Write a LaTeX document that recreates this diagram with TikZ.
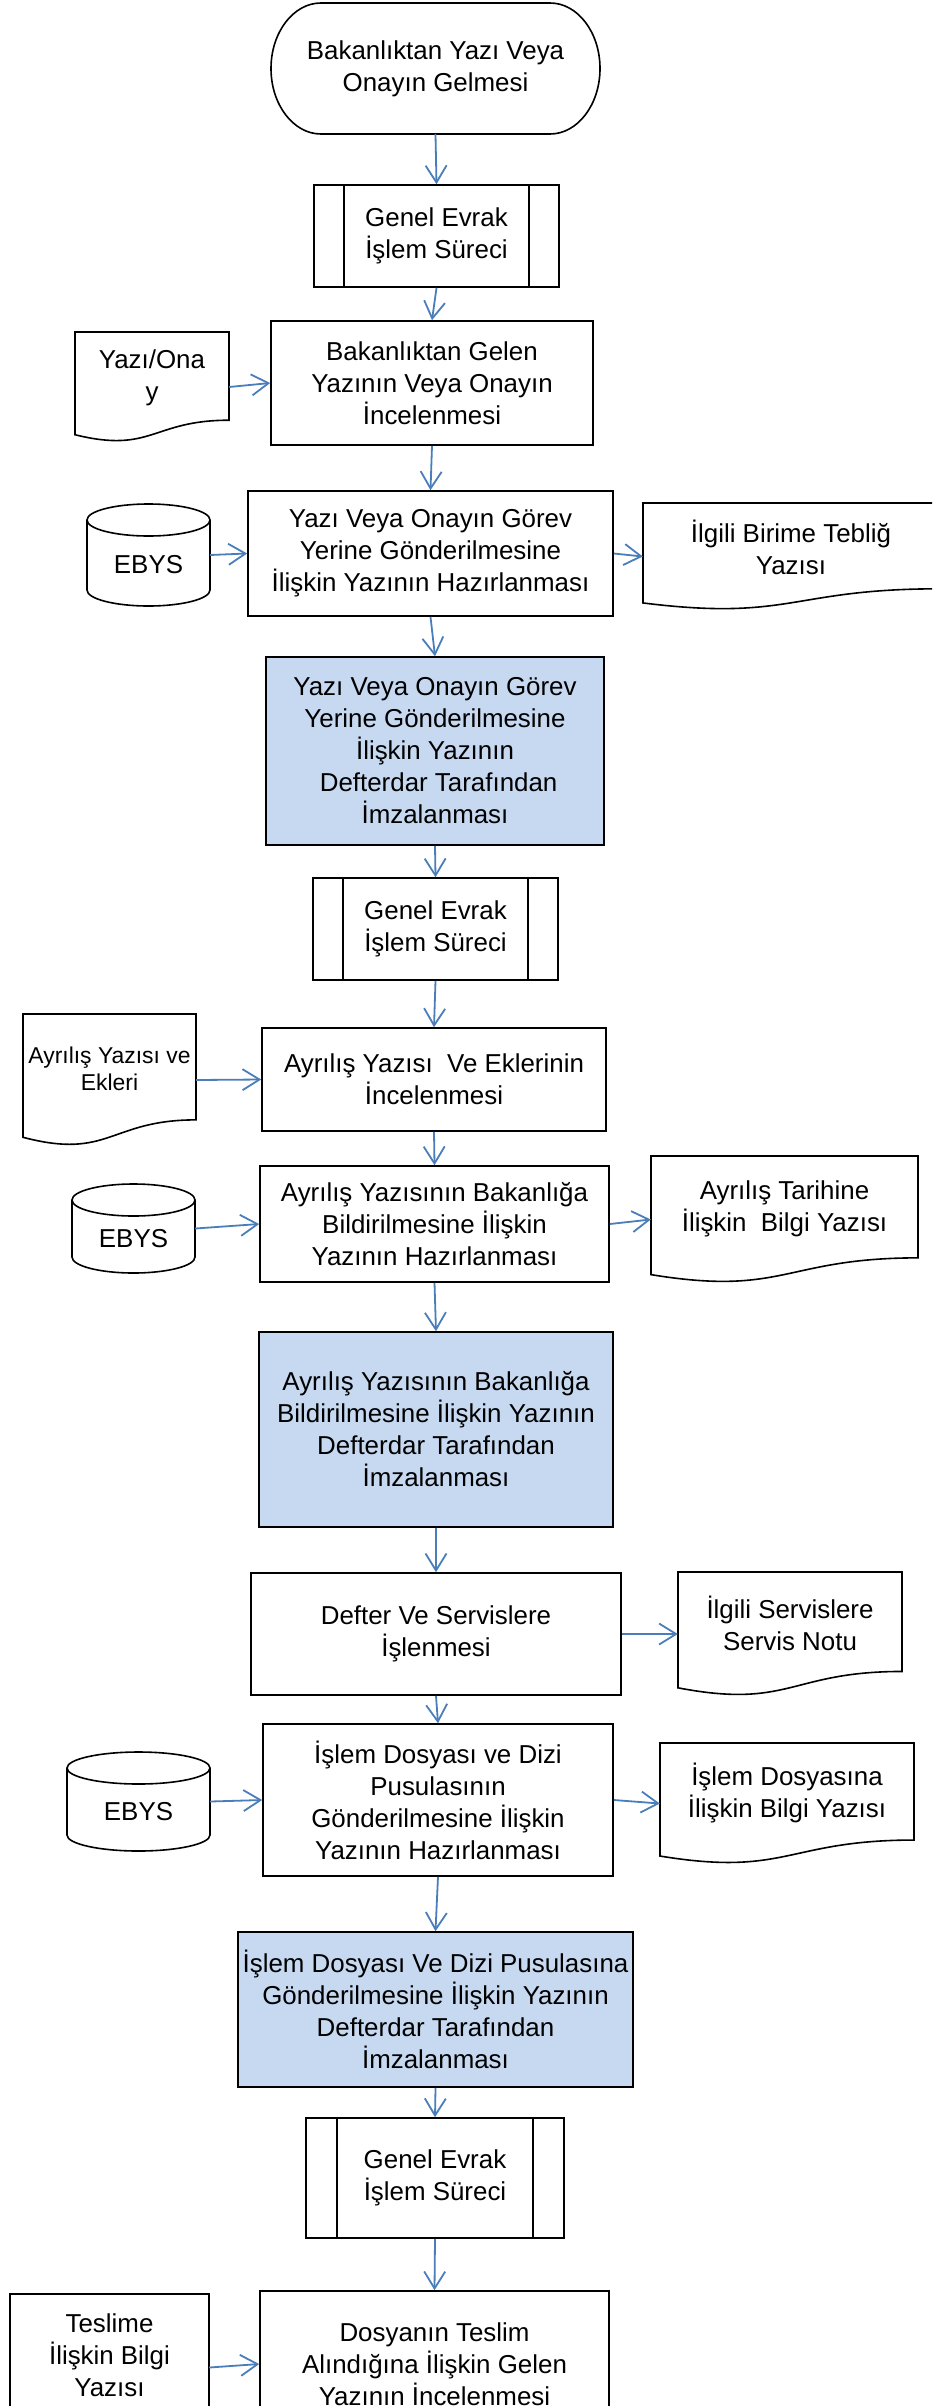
\documentclass[tikz,border=0pt]{standalone}
\usepackage{fontspec}
\setmainfont{Liberation Sans}
\usetikzlibrary{arrows.meta,calc}
\definecolor{arrowblue}{RGB}{74,126,187}
\definecolor{fillblue}{RGB}{198,217,241}
\newcommand{\mainfs}{\fontsize{25.9}{32}\selectfont}
\newcommand{\smallfs}{\fontsize{22.9}{27.5}\selectfont}
\tikzset{
  shapeline/.style={draw=black, line width=1.6pt},
  procbox/.style={shapeline, rectangle, inner sep=0pt, align=center, font=\mainfs},
  signbox/.style={procbox, fill=fillblue},
  txt/.style={align=center, inner sep=0pt, font=\mainfs},
  anchorbox/.style={draw=none, inner sep=0pt, rectangle},
  conn/.style={draw=arrowblue, line width=1.8pt, -{Straight Barb[length=17pt,width=21pt,line width=1.8pt]}}
}
% document shape: name, x1, x2, top, height, label options, text
\newcommand{\docshp}[7]{%
  \pgfmathsetmacro\dsXm{(#2+#3)/2}%
  \pgfmathsetmacro\dsYa{#4+0.802*#5}%
  \pgfmathsetmacro\dsYb{#4+1.107*#5}%
  \pgfmathsetmacro\dsYc{#4+0.934*#5}%
  \pgfmathsetmacro\dsYt{#4+0.415*#5}%
  \pgfmathsetmacro\dsYm{#4+0.5*#5}%
  \pgfmathsetmacro\dsW{#3-#2}%
  \draw[shapeline] (#2,#4) -- (#3,#4) -- (#3,\dsYa) .. controls (\dsXm,\dsYa) and (\dsXm,\dsYb) .. (#2,\dsYc) -- cycle;
  \node[anchorbox, minimum width=\dsW pt, minimum height=#5pt] (#1) at (\dsXm,\dsYm) {};
  \node[txt,#6] (#1-label) at (\dsXm,\dsYt) {#7};
}
% cylinder (database): name, cx, cy, width, height
\newcommand{\cylshp}[5]{%
  \pgfmathsetmacro\cyRx{#4/2}%
  \pgfmathsetmacro\cyRy{16}%
  \pgfmathsetmacro\cyL{#2-#4/2}%
  \pgfmathsetmacro\cyR{#2+#4/2}%
  \pgfmathsetmacro\cyT{#3-#5/2+16}%
  \pgfmathsetmacro\cyB{#3+#5/2-16}%
  \draw[shapeline] (\cyL,\cyT) -- (\cyL,\cyB) arc[start angle=180, end angle=360, x radius=\cyRx pt, y radius=\cyRy pt] -- (\cyR,\cyT);
  \draw[shapeline] (#2,\cyT) ellipse [x radius=\cyRx pt, y radius=\cyRy pt];
  \node[anchorbox, minimum width=#4pt, minimum height=#5pt] (#1) at (#2,#3) {};
  \node[txt] (#1-label) at (#2,#3+10) {EBYS};
}
\begin{document}
\begin{tikzpicture}[x=1pt,y=-1pt]
\useasboundingbox (0,0) rectangle (932,2406);
\clip (0,0) rectangle (932,2406);
\fill[white] (0,0) rectangle (932,2406);

% terminal
\draw[shapeline] (321,3) -- (550,3) .. controls (577.6,3) and (600,32.3) .. (600,68.5) .. controls (600,104.7) and (577.6,134) .. (550,134) -- (321,134) .. controls (293.4,134) and (271,104.7) .. (271,68.5) .. controls (271,32.3) and (293.4,3) .. (321,3) -- cycle;
\node[txt, minimum width=329pt, minimum height=131pt] (term) at (435.5,68.5) {Bakanlıktan Yazı Veya\\Onayın Gelmesi};

% predefined process 1
\node[procbox, minimum width=245pt, minimum height=102pt] (pp1) at (436.5,236) {Genel Evrak\\İşlem Süreci};
\draw[shapeline] ([xshift=31pt]pp1.north west) -- ([xshift=31pt]pp1.south west);
\draw[shapeline] ([xshift=-31pt]pp1.north east) -- ([xshift=-31pt]pp1.south east);

\node[procbox, minimum width=322pt, minimum height=124pt] (box1) at (432,383) {Bakanlıktan Gelen\\Yazının Veya Onayın\\İncelenmesi};
\docshp{doc1}{75}{229}{332}{110}{}{Yazı/Ona\\y}

\node[procbox, minimum width=365pt, minimum height=125pt] (box2) at (430.5,553.5) {Yazı Veya Onayın Görev\\Yerine Gönderilmesine\\İlişkin Yazının Hazırlanması};
\cylshp{ebys1}{148.5}{555}{123}{102}
\docshp{doc2}{643}{939}{503}{107}{}{İlgili Birime Tebliğ\\Yazısı}

\node[signbox, minimum width=338pt, minimum height=188pt] (sign1) at (435,751) {Yazı Veya Onayın Görev\\Yerine Gönderilmesine\\İlişkin Yazının\\\mbox{ }Defterdar Tarafından\\İmzalanması};

\node[procbox, minimum width=245pt, minimum height=102pt] (pp2) at (435.5,929) {Genel Evrak\\İşlem Süreci};
\draw[shapeline] ([xshift=31pt]pp2.north west) -- ([xshift=31pt]pp2.south west);
\draw[shapeline] ([xshift=-31pt]pp2.north east) -- ([xshift=-31pt]pp2.south east);

\node[procbox, minimum width=344pt, minimum height=103pt] (box3) at (434,1079.5) {Ayrılış Yazısı~ Ve Eklerinin\\İncelenmesi};
\docshp{doc3}{23}{196}{1014}{132}{font=\smallfs}{Ayrılış Yazısı ve\\Ekleri}

\node[procbox, minimum width=349pt, minimum height=116pt] (box4) at (434.5,1224) {Ayrılış Yazısının Bakanlığa\\Bildirilmesine İlişkin\\Yazının Hazırlanması};
\cylshp{ebys2}{133.5}{1228.5}{123}{89}
\docshp{doc4}{651}{918}{1156}{127}{}{Ayrılış Tarihine\\İlişkin~ Bilgi Yazısı}

\node[signbox, minimum width=354pt, minimum height=195pt] (sign2) at (436,1429.5) {Ayrılış Yazısının Bakanlığa\\Bildirilmesine İlişkin Yazının\\Defterdar Tarafından\\İmzalanması};

\node[procbox, minimum width=370pt, minimum height=122pt] (box5) at (436,1634) {Defter Ve Servislere\\İşlenmesi};
\docshp{doc5}{678}{902}{1572}{124}{}{İlgili Servislere\\Servis Notu}

\node[procbox, minimum width=350pt, minimum height=152pt] (box6) at (438,1800) {İşlem Dosyası ve Dizi\\Pusulasının\\Gönderilmesine İlişkin\\Yazının Hazırlanması};
\cylshp{ebys3}{138.5}{1801.5}{143}{99}
\docshp{doc6}{660}{914}{1743}{121}{}{İşlem Dosyasına\\İlişkin Bilgi Yazısı}

\node[signbox, minimum width=395pt, minimum height=155pt] (sign3) at (435.5,2009.5) {İşlem Dosyası Ve Dizi Pusulasına\\Gönderilmesine İlişkin Yazının\\Defterdar Tarafından\\İmzalanması};

\node[procbox, minimum width=258pt, minimum height=120pt] (pp3) at (435,2178) {Genel Evrak\\İşlem Süreci};
\draw[shapeline] ([xshift=32pt]pp3.north west) -- ([xshift=32pt]pp3.south west);
\draw[shapeline] ([xshift=-32pt]pp3.north east) -- ([xshift=-32pt]pp3.south east);

\node[procbox, minimum width=349pt, minimum height=146pt] (box7) at (434.5,2364) {Dosyanın Teslim\\Alındığına İlişkin Gelen\\Yazının İncelenmesi};
\docshp{doc7}{10}{209}{2294}{147}{}{Teslime\\İlişkin Bilgi\\Yazısı}

% connectors
\draw[conn] (term.south) -- (pp1.north);
\draw[conn] (pp1.south) -- (box1.north);
\draw[conn] (doc1.east) -- (box1.west);
\draw[conn] (box1.south) -- (box2.north);
\draw[conn] (ebys1.east) -- (box2.west);
\draw[conn] (box2.east) -- (doc2.west);
\draw[conn] (box2.south) -- (sign1.north);
\draw[conn] (sign1.south) -- (pp2.north);
\draw[conn] (pp2.south) -- (box3.north);
\draw[conn] (doc3.east) -- (box3.west);
\draw[conn] (box3.south) -- (box4.north);
\draw[conn] (ebys2.east) -- (box4.west);
\draw[conn] (box4.east) -- (doc4.west);
\draw[conn] (box4.south) -- (sign2.north);
\draw[conn] (sign2.south) -- (box5.north);
\draw[conn] (box5.east) -- (doc5.west);
\draw[conn] (box5.south) -- (box6.north);
\draw[conn] (ebys3.east) -- (box6.west);
\draw[conn] (box6.east) -- (doc6.west);
\draw[conn] (box6.south) -- (sign3.north);
\draw[conn] (sign3.south) -- (pp3.north);
\draw[conn] (pp3.south) -- (box7.north);
\draw[conn] (doc7.east) -- (box7.west);
\end{tikzpicture}
\end{document}
